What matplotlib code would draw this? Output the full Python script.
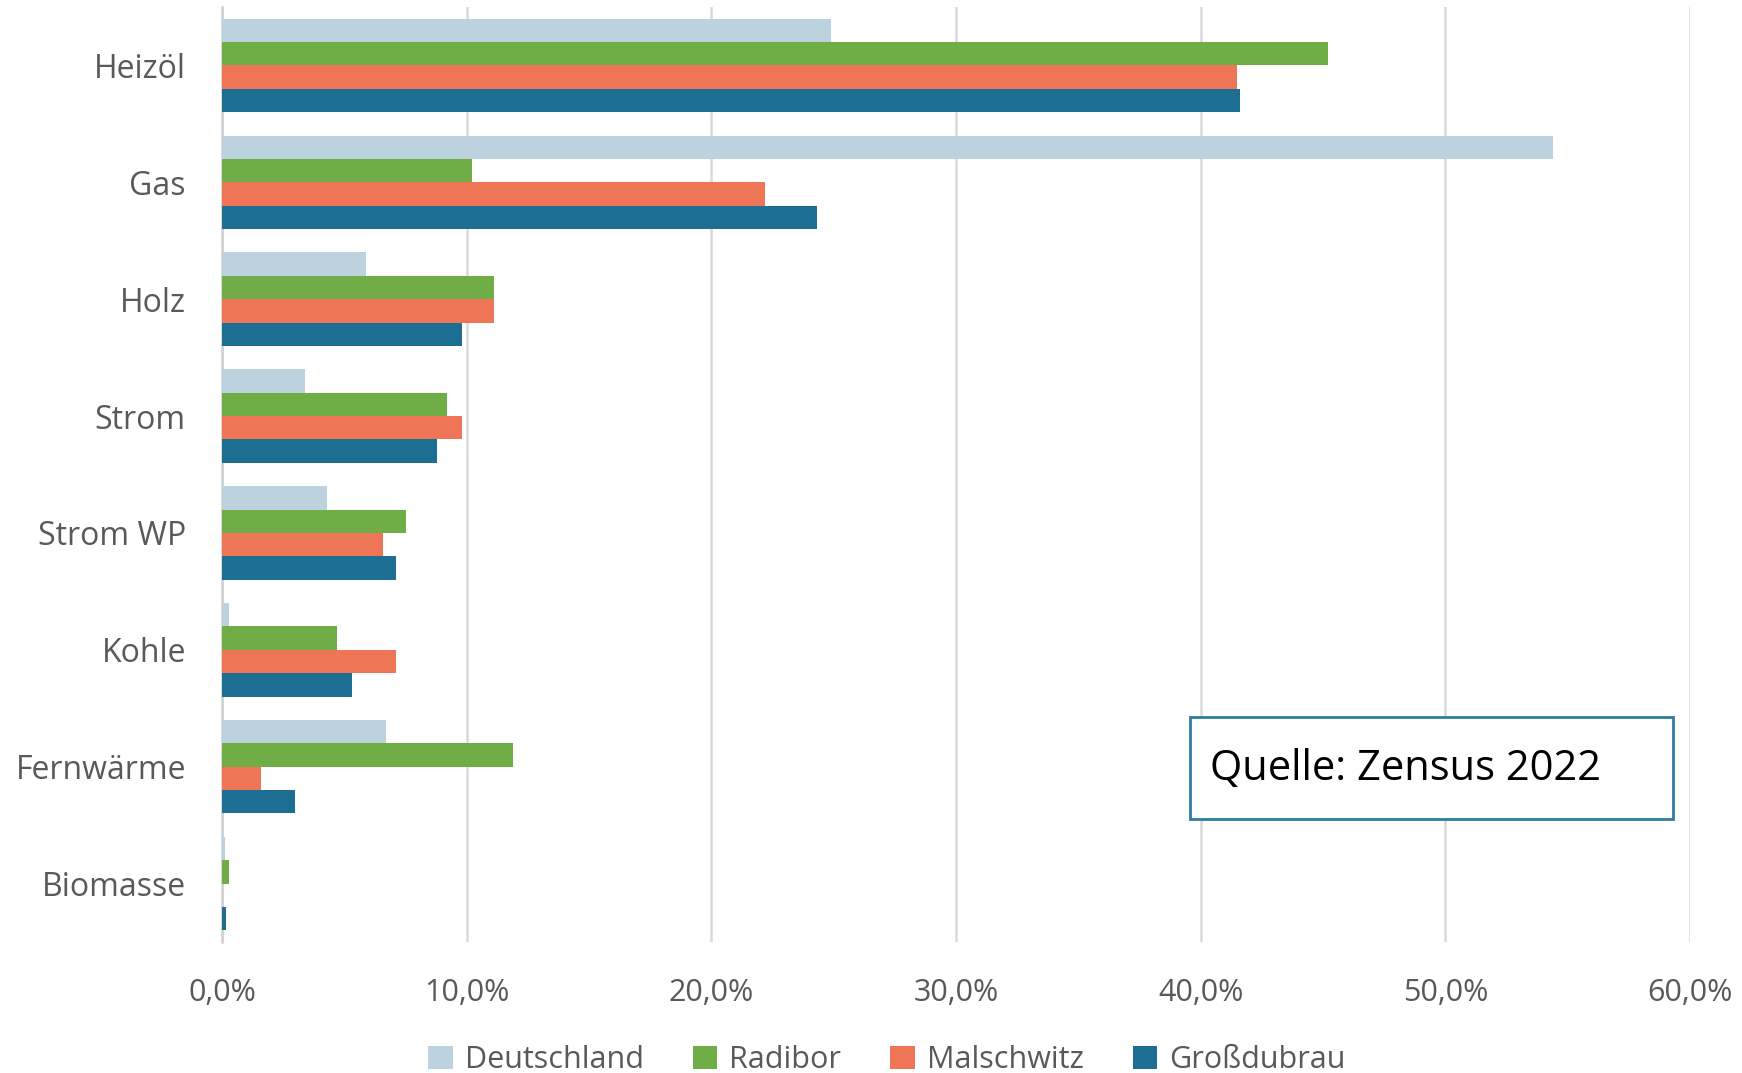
import matplotlib
matplotlib.use("Agg")
import matplotlib.pyplot as plt
from matplotlib.patches import Patch, Rectangle
from matplotlib.ticker import FuncFormatter
import numpy as np

categories = ["Heizöl", "Gas", "Holz", "Strom", "Strom WP", "Kohle", "Fernwärme", "Biomasse"]
series_names = ["Deutschland", "Radibor", "Malschwitz", "Großdubrau"]
deutschland = [24.9, 54.4, 5.9, 3.4, 4.3, 0.3, 6.7, 0.12]
radibor = [45.2, 10.2, 11.1, 9.2, 7.5, 4.7, 11.9, 0.3]
malschwitz = [41.5, 22.2, 11.1, 9.8, 6.6, 7.1, 1.6, 0.0]
grossdubrau = [41.6, 24.3, 9.8, 8.8, 7.1, 5.3, 3.0, 0.18]
xticks = [0, 10, 20, 30, 40, 50, 60]
source_text = "Quelle: Zensus 2022"

colors = ["#BCD3DF", "#70AD47", "#EE7656", "#1D6E93"]
text_gray = "#595959"
plt.rcParams['font.family'] = ['Open Sans', 'DejaVu Sans']

fig = plt.figure(figsize=(17.42, 10.73), dpi=100)
ax = fig.add_axes([222/1742, 1 - 942/1073, (1690-222)/1742, (942-7)/1073])

y = np.arange(len(categories))
h = 0.2
data = [deutschland, radibor, malschwitz, grossdubrau]
for k, (vals, c, name) in enumerate(zip(data, colors, series_names)):
    ax.barh(y + (k - 1.5) * h, vals, height=h, color=c, label=name, zorder=3)

ax.set_ylim(len(categories) - 0.5, -0.5)
ax.set_xlim(0, 60)
ax.set_xticks(xticks)
ax.xaxis.set_major_formatter(FuncFormatter(lambda v, p: f"{v:.1f}%".replace(".", ",")))
ax.set_yticks(y)
ax.set_yticklabels(categories)
ax.grid(axis="x", color="#D9D9D9", linewidth=1.8, zorder=0)
for s in ["top", "right", "bottom"]:
    ax.spines[s].set_visible(False)
ax.spines["left"].set_color("#D0D0D0")
ax.spines["left"].set_linewidth(1.8)
ax.spines["left"].set_zorder(2)
ax.tick_params(axis="both", length=0, labelsize=22, labelcolor=text_gray)
ax.tick_params(axis="y", labelsize=23, pad=26)
ax.tick_params(axis="x", pad=26)

handles = [Patch(facecolor=c, label=n) for c, n in zip(colors, series_names)]
fig.legend(handles=handles, loc="center", bbox_to_anchor=(887/1742, 1 - 1060/1073),
           ncol=4, frameon=False, fontsize=22, labelcolor=text_gray,
           handlelength=0.8, handleheight=0.8, handletextpad=0.4, columnspacing=1.6)

# source box
bx0, by0, bx1, by1 = 1190, 717, 1673, 819
fig.patches.append(Rectangle((bx0/1742, 1 - by1/1073), (bx1-bx0)/1742, (by1-by0)/1073,
                             transform=fig.transFigure, facecolor="white",
                             edgecolor="#2E7DA0", linewidth=2, zorder=5))
fig.text(1210/1742, 1 - 769/1073, source_text, fontsize=30, color="black",
         ha="left", va="center", zorder=6)

fig.savefig("out.png", dpi=100, facecolor="white")
